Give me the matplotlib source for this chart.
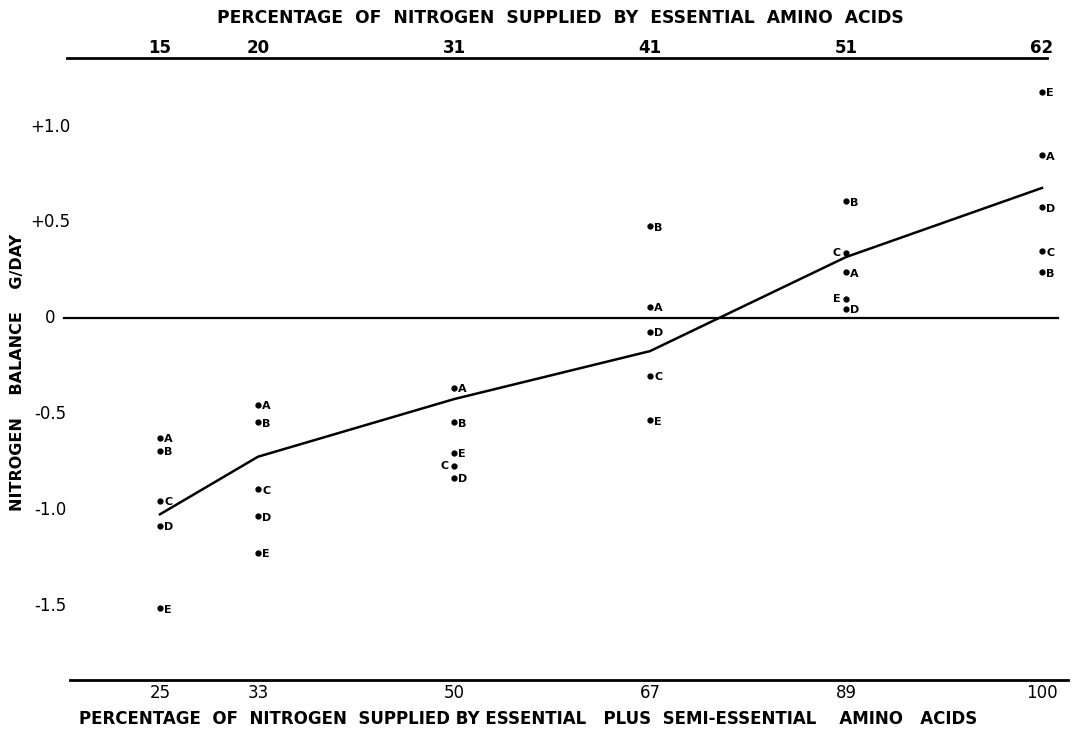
import numpy as np
import matplotlib
matplotlib.use("Agg")
import matplotlib.pyplot as plt

# x categories (bottom: essential + semi-essential, top: essential only)
bottom_labels = ["25", "33", "50", "67", "89", "100"]
top_labels = ["15", "20", "31", "41", "51", "62"]
# columns are not spaced by value in the original, they sit on a slot scale
slots = [0.0, 0.5, 1.5, 2.5, 3.5, 4.5]

# nitrogen balance g/day per subject
subj_A = [-0.62, -0.45, -0.36, 0.06, 0.24, 0.85]
subj_B = [-0.69, -0.54, -0.54, 0.48, 0.61, 0.24]
subj_C = [-0.95, -0.89, -0.77, -0.30, 0.34, 0.35]
subj_D = [-1.08, -1.03, -0.83, -0.07, 0.05, 0.58]
subj_E = [-1.51, -1.22, -0.70, -0.53, 0.10, 1.18]
# mean line
mean_line = [-1.02, -0.72, -0.42, -0.17, 0.32, 0.68]

subjects = {"A": subj_A, "B": subj_B, "C": subj_C, "D": subj_D, "E": subj_E}
# labels that sit on the left of their dot
left_side = {("C", 2), ("C", 4), ("E", 4)}

yticks = [1.0, 0.5, 0.0, -0.5, -1.0, -1.5]
ytick_txt = ["+1.0", "+0.5", "0", "-0.5", "-1.0", "-1.5"]

fig = plt.figure(figsize=(10.74, 7.32), dpi=100)
ax = fig.add_axes([0, 0, 1, 1])
ax.set_xlim(-160 / 196, (1074 - 160) / 196)
ax.set_ylim(-2.154, 1.659)
ax.axis("off")

font = "DejaVu Sans"

# rules: top axis, zero line, bottom axis
ax.plot([-0.474, 4.526], [1.357, 1.357], color="black", lw=2)
ax.plot([-0.49, 4.58], [0, 0], color="black", lw=1.6)
ax.plot([-0.459, 4.633], [-1.883, -1.883], color="black", lw=2)

ax.plot(slots, mean_line, color="black", lw=1.8)

for name, vals in subjects.items():
    ax.plot(slots, vals, "o", color="black", ms=3.5, ls="none")
    for i, v in enumerate(vals):
        if (name, i) in left_side:
            ax.annotate(name, (slots[i], v), xytext=(-4, 0), textcoords="offset points",
                        ha="right", va="center", fontsize=8, fontweight="bold", family=font)
        else:
            ax.annotate(name, (slots[i], v), xytext=(3, -1), textcoords="offset points",
                        ha="left", va="center", fontsize=8, fontweight="bold", family=font)

ypix = lambda py: (318.5 - py) / 192
xpix = lambda px: (px - 160) / 196

for s, lab in zip(slots, top_labels):
    ax.text(s, ypix(48), lab, ha="center", va="center", fontsize=12, fontweight="bold", family=font)
for s, lab in zip(slots, bottom_labels):
    ax.text(s, ypix(693), lab, ha="center", va="center", fontsize=12, family=font)

for v, t in zip(yticks, ytick_txt):
    ax.text(xpix(50), v, t, ha="center", va="center", fontsize=12, family=font)

ax.text(xpix(560), ypix(18), "PERCENTAGE  OF  NITROGEN  SUPPLIED  BY  ESSENTIAL  AMINO  ACIDS",
        ha="center", va="center", fontsize=12.3, fontweight="bold", family=font)
ax.text(xpix(528), ypix(719),
        "PERCENTAGE  OF  NITROGEN  SUPPLIED BY ESSENTIAL   PLUS  SEMI-ESSENTIAL    AMINO   ACIDS",
        ha="center", va="center", fontsize=12, fontweight="bold", family=font)
ax.text(xpix(18), ypix(372), "NITROGEN    BALANCE    G/DAY",
        ha="center", va="center", rotation=90, fontsize=11.5, fontweight="bold", family=font)

fig.savefig("out.png", dpi=100)
